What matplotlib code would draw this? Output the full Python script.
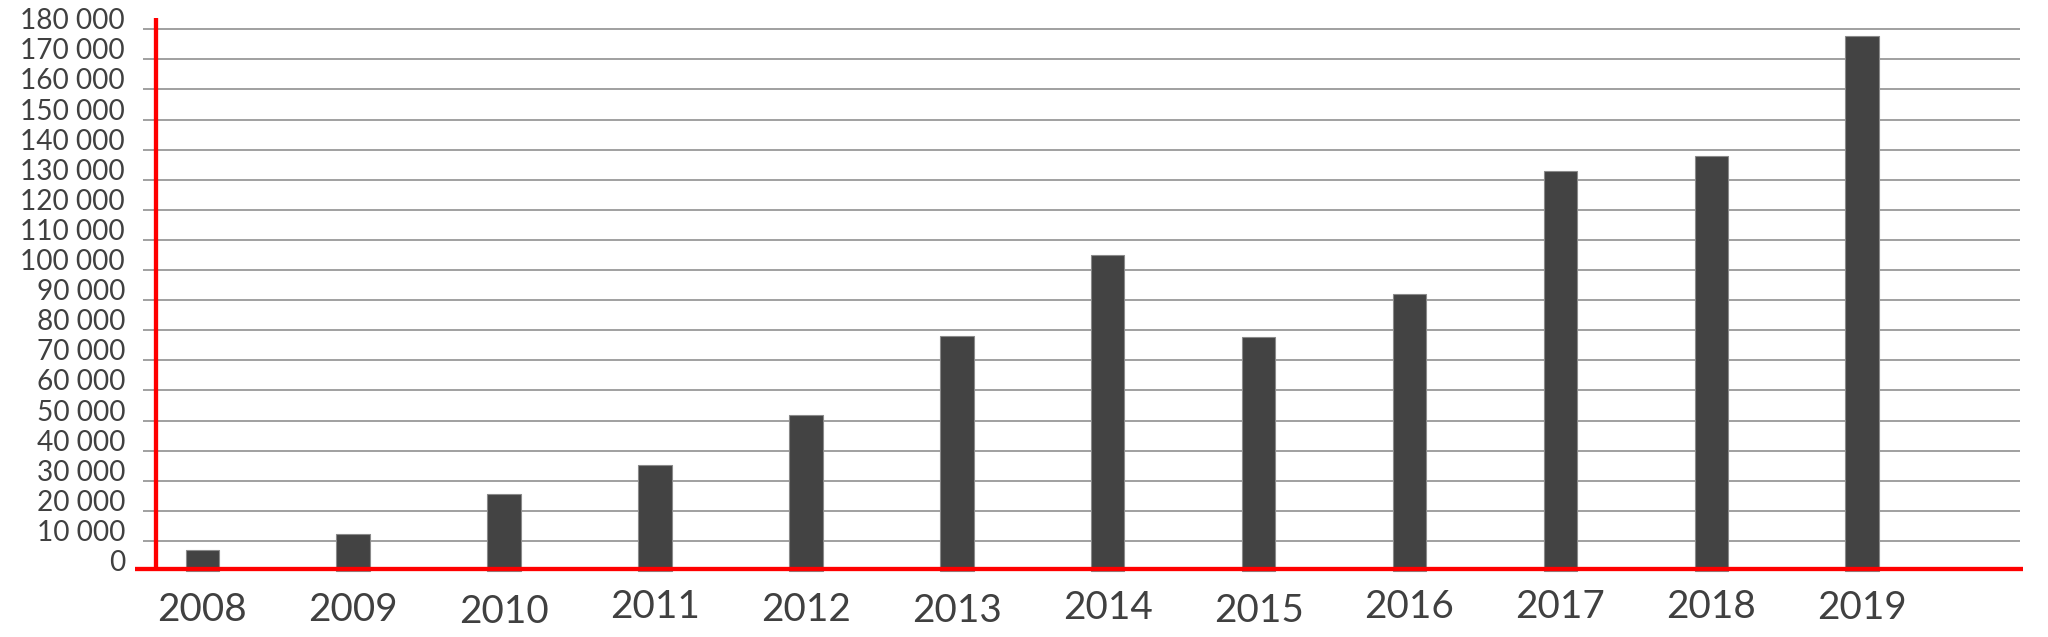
import matplotlib.pyplot as plt
import numpy as np

plt.rcParams['font.family'] = ['Lato', 'DejaVu Sans']

years = ['2008', '2009', '2010', '2011', '2012', '2013',
         '2014', '2015', '2016', '2017', '2018', '2019']
values = [6900, 12200, 25700, 35200, 51900, 78000,
          105100, 77800, 92000, 132800, 138000, 177600]
y_ticks = list(range(0, 180001, 10000))
y_labels = ['{:,}'.format(v).replace(',', ' ') for v in y_ticks]

# layout of the original picture, in pixels
SLOT = 150.9      # distance between bar centres
X0 = 202.3        # centre of the first bar
ZERO = 571.0      # row of the value 0
PER = 30.1 / 10000  # pixels per unit


def px_x(p):
    return (p - X0) / SLOT


def px_y(r):
    return (ZERO - r) / PER


# small vertical shifts of the year labels (baseline rows in the original)
label_rows = [620.7, 620.7, 622.7, 617.7, 620.7, 622.0,
              619.0, 622.3, 617.7, 618.3, 617.7, 619.3]

text_color = '#404040'

fig = plt.figure(figsize=(20.48, 6.37), dpi=100)
ax = fig.add_axes([0, 0, 1, 1])
ax.set_xlim(px_x(0), px_x(2048))
ax.set_ylim(px_y(637), px_y(0))
ax.axis('off')

x = np.arange(len(years))

# grid lines
ax.hlines(y_ticks[1:], px_x(142.7), px_x(2020), color='#a0a0a0', linewidth=1.4, zorder=1)

# bars
ax.bar(x, values, width=33.5 / SLOT, color='#434343', edgecolor='#8a8a8a',
       linewidth=0.8, zorder=2)

# red axes
ax.plot([px_x(156), px_x(156)], [0, px_y(17.7)], color='#ff0000', linewidth=3.1,
        solid_capstyle='butt', zorder=3)
ax.plot([px_x(135), px_x(2023)], [px_y(568.5), px_y(568.5)], color='#ff0000',
        linewidth=3.1, solid_capstyle='butt', zorder=3)

# y labels
for v, lab in zip(y_ticks, y_labels):
    ax.text(px_x(125), v, lab, ha='right', va='baseline', fontsize=20.2, color=text_color)

# x labels
for i, (yr, row) in enumerate(zip(years, label_rows)):
    ax.text(i, px_y(row), yr, ha='center', va='baseline', fontsize=27.8, color=text_color)

plt.savefig('out.png', dpi=100)
